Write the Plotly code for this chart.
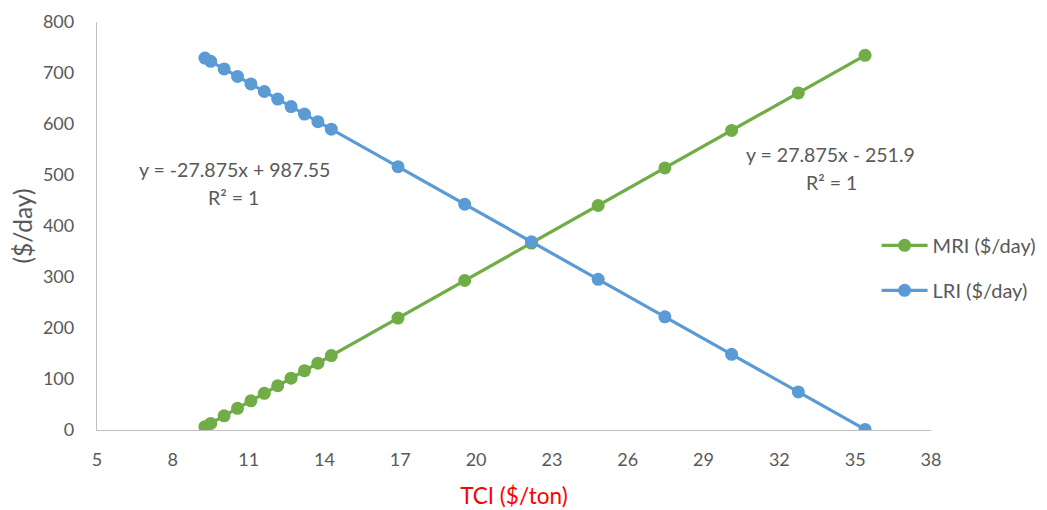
import plotly.graph_objects as go

# TCI ($/ton)
tci = [9.27, 9.50, 10.03, 10.56, 11.09, 11.62, 12.15, 12.68, 13.21, 13.74, 14.27,
       16.91, 19.55, 22.19, 24.83, 27.47, 30.11, 32.75, 35.39]
# MRI ($/day)
mri = [6.5, 12.9, 27.7, 42.5, 57.2, 72.0, 86.8, 101.6, 116.3, 131.1, 145.9,
       219.5, 293.1, 366.6, 440.2, 513.8, 587.4, 661.0, 734.6]
# LRI ($/day)
lri = [729.2, 722.8, 708.0, 693.2, 678.5, 663.7, 648.9, 634.1, 619.4, 604.6, 589.8,
       516.2, 442.6, 369.1, 295.5, 221.9, 148.3, 74.7, 1.1]

x_ticks = [5, 8, 11, 14, 17, 20, 23, 26, 29, 32, 35, 38]
y_ticks = [0, 100, 200, 300, 400, 500, 600, 700, 800]

series_names = ["MRI ($/day)", "LRI ($/day)"]
eq_mri = "y = 27.875x - 251.9"
eq_lri = "y = -27.875x + 987.55"
r2_text = "R² = 1"

GREEN = "#70AD47"
BLUE = "#5B9BD5"
GREY = "#595959"
FONT = "Lato"

fig = go.Figure()
fig.add_trace(go.Scatter(
    x=tci, y=mri, mode="lines+markers", name=series_names[0], legendgroup="a",
    line=dict(color=GREEN, width=3.2), marker=dict(color=GREEN, size=13)))
fig.add_trace(go.Scatter(
    x=tci, y=lri, mode="lines+markers", name=series_names[1], legendgroup="b",
    line=dict(color=BLUE, width=3.2), marker=dict(color=BLUE, size=13)))

ann_font = dict(family=FONT, size=19.5, color=GREY)
fig.add_annotation(x=10.45, y=510, xref="x", yref="y", text=eq_lri,
                   showarrow=False, font=ann_font)
fig.add_annotation(x=10.42, y=456, xref="x", yref="y", text=r2_text,
                   showarrow=False, font=ann_font)
fig.add_annotation(x=34.02, y=540, xref="x", yref="y", text=eq_mri,
                   showarrow=False, font=ann_font)
fig.add_annotation(x=34.06, y=485, xref="x", yref="y", text=r2_text,
                   showarrow=False, font=ann_font)

fig.update_layout(
    width=1039, height=502,
    margin=dict(l=89, r=116, t=14, b=80, autoexpand=False),
    paper_bgcolor="white", plot_bgcolor="white",
    font=dict(family=FONT, size=18, color=GREY),
    showlegend=True,
    legend=dict(xref="container", yref="container", x=0.836, y=0.566,
                xanchor="left", yanchor="top",
                font=dict(family=FONT, size=20, color=GREY),
                itemwidth=46,
                tracegroupgap=16, bgcolor="rgba(0,0,0,0)"),
    xaxis=dict(range=[5, 38], tickvals=x_ticks, showgrid=False, zeroline=False,
               showline=True, linecolor="#BFBFBF", linewidth=1.3, ticks="",
               automargin=False,
               ticklabelstandoff=13,
               tickfont=dict(family=FONT, size=18, color=GREY),
               title=dict(text="TCI ($/ton)", font=dict(family=FONT, size=22.5, color="#FF0000"),
                          standoff=19)),
    yaxis=dict(range=[0, 800], tickvals=y_ticks, showgrid=False, zeroline=False,
               showline=True, linecolor="#BFBFBF", linewidth=1.3, ticks="",
               automargin=False,
               ticklabelstandoff=18,
               tickfont=dict(family=FONT, size=18, color=GREY),
               title=dict(text="($/day)", font=dict(family=FONT, size=24.5, color=GREY),
                          standoff=7)),
)

fig.write_html("out.html")
